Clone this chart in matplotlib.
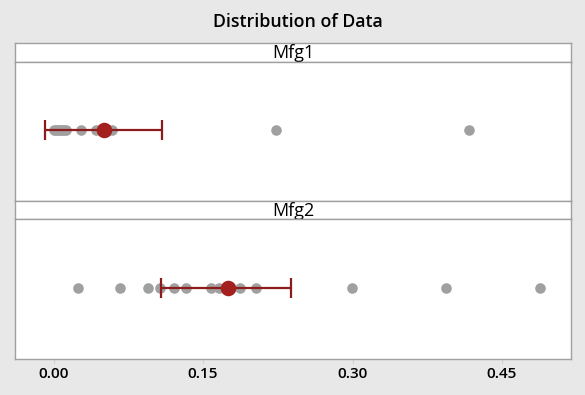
import matplotlib
matplotlib.use("Agg")
import matplotlib.pyplot as plt
import numpy as np

plt.rcParams['font.family'] = ['Open Sans', 'DejaVu Sans']

groups = ["Mfg1", "Mfg2"]
mfg1_values = [0.000, 0.002, 0.004, 0.006, 0.008, 0.010, 0.012, 0.028, 0.043,
               0.047, 0.055, 0.059, 0.223, 0.417]
mfg2_values = [0.025, 0.067, 0.095, 0.107, 0.121, 0.133, 0.158, 0.166, 0.178,
               0.187, 0.203, 0.299, 0.394, 0.488]
means = [0.051, 0.175]
ci_low = [-0.009, 0.108]
ci_high = [0.109, 0.2385]
xticks = [0.00, 0.15, 0.30, 0.45]
xtick_labels = ["0.00", "0.15", "0.30", "0.45"]
title = "Distribution of Data"

W, H = 585, 395
fig = plt.figure(figsize=(W / 100, H / 100), dpi=100)
fig.patch.set_facecolor("#E8E8E8")

left_px, right_px = 15.3, 570.7
# (strip top, strip bottom/panel top, panel bottom) in pixels from top
layout = [(43.3, 61.7, 201.3), (201.3, 219.3, 358.7)]
border = "#A0A0A0"

def fx(px):
    return px / W

def fy(py):
    return 1 - py / H

xlim = (-0.0384, 0.5189)
all_values = [mfg1_values, mfg2_values]

for i, (g, vals) in enumerate(zip(groups, all_values)):
    st, sb, pb = layout[i]
    # strip
    sax = fig.add_axes([fx(left_px), fy(sb), fx(right_px - left_px), (sb - st) / H])
    sax.set_facecolor("white")
    sax.set_xticks([])
    sax.set_yticks([])
    for sp in sax.spines.values():
        sp.set_color(border)
        sp.set_linewidth(1.0)
    sax.text(0.5, 0.45, g, ha="center", va="center", fontsize=13,
             transform=sax.transAxes, color="black")
    # panel
    ax = fig.add_axes([fx(left_px), fy(pb), fx(right_px - left_px), (pb - sb) / H])
    ax.set_facecolor("white")
    for sp in ax.spines.values():
        sp.set_color(border)
        sp.set_linewidth(1.0)
    ax.set_xlim(*xlim)
    ax.set_ylim(-1.03, 1)
    ax.set_yticks([])
    ax.scatter(vals, np.zeros(len(vals)), s=58, color="#A0A0A0", zorder=2,
               linewidths=0)
    m = means[i]
    ax.errorbar([m], [0], xerr=[[m - ci_low[i]], [ci_high[i] - m]], fmt="none",
                ecolor="#8E1B1B", elinewidth=1.6, capsize=7.5, capthick=1.6,
                zorder=3)
    ax.scatter([m], [0], s=125, color="#A3201E", zorder=4, linewidths=0)
    ax.set_xticks(xticks)
    if i == len(groups) - 1:
        ax.set_xticklabels(xtick_labels, fontsize=11, fontweight=600,
                           color="black")
        ax.tick_params(axis="x", length=3, color="#D0D0D0", pad=3)
    else:
        ax.tick_params(axis="x", length=0, labelbottom=False)

fig.text(fx(298), fy(22.3), title, ha="center", va="center", fontsize=12.8,
         fontweight=600, color="black")

fig.savefig("out.png", dpi=100, facecolor=fig.get_facecolor())
